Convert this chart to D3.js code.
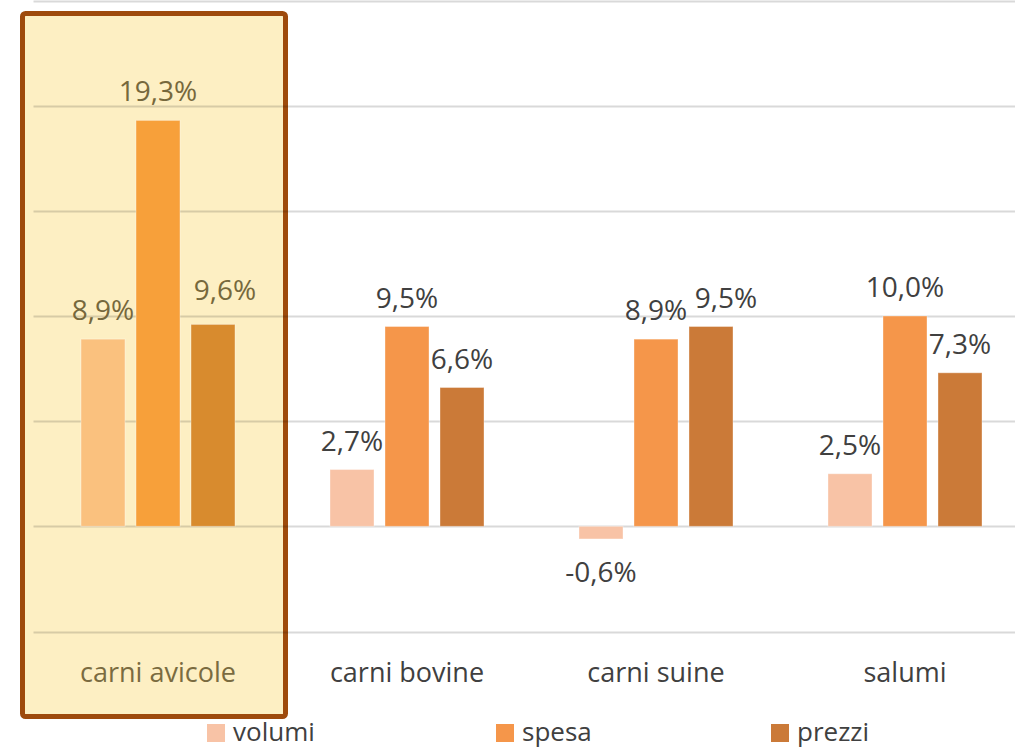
<!DOCTYPE html>
<html>
<head>
<meta charset="utf-8">
<script src="https://cdn.jsdelivr.net/npm/d3@7"></script>
<style>
    body { margin: 0; background: #fff; }
    svg text { font-family: "Open Sans", sans-serif; }
</style>
</head>
<body>
<div id="chart"></div>
<script>
const categories = ["carni avicole", "carni bovine", "carni suine", "salumi"];
const seriesNames = ["volumi", "spesa", "prezzi"];
const volumi = [8.9, 2.7, -0.6, 2.5];
const spesa = [19.3, 9.5, 8.9, 10.0];
const prezzi = [9.6, 6.6, 9.5, 7.3];
const yTicks = [-5, 0, 5, 10, 15, 20, 25];

const values = [volumi, spesa, prezzi];
const highlighted = "carni avicole";

// colori serie (normale / evidenziato)
const seriesColors = ["#F8C3A6", "#F5964A", "#CB7A38"];
const highlightColors = ["#FAC17E", "#F7A03A", "#D88B2E"];

// piccoli spostamenti delle etichette per evitare sovrapposizioni (come in Excel)
const labelNudge = {
    "carni avicole|prezzi": [12, -5],
    "carni suine|prezzi": [15, 0]
};

const width = 1015;
const height = 750;

const svg = d3.select("#chart")
    .append("svg")
    .attr("width", width)
    .attr("height", height);

const xScale = d3.scaleBand()
    .domain(categories)
    .range([33.5, 1029.5]);

const yScale = d3.scaleLinear()
    .domain([-5, 25])
    .range([631.5, 0.5]);

const groupWidth = 154;
const inner = d3.scaleBand()
    .domain(seriesNames)
    .range([0, groupWidth])
    .paddingInner(0.2);

// riquadro evidenziato
svg.append("rect")
    .attr("x", xScale(highlighted) - 11)
    .attr("y", 13.5)
    .attr("width", xScale.bandwidth() + 14)
    .attr("height", 703)
    .attr("rx", 3)
    .attr("fill", "#FDEFC3")
    .attr("stroke", "#9E4A0C")
    .attr("stroke-width", 5);

// griglia
svg.append("g")
    .attr("class", "grid")
    .selectAll("line")
    .data(yTicks)
    .enter()
    .append("line")
    .attr("x1", 33.5)
    .attr("x2", width)
    .attr("y1", (d) => Math.round(yScale(d)) + 0.5)
    .attr("y2", (d) => Math.round(yScale(d)) + 0.5)
    .attr("stroke", "#000")
    .attr("stroke-opacity", 0.15)
    .attr("stroke-width", 2);

// barre
const groupOffset = (xScale.bandwidth() - groupWidth) / 2;
const fmt = (v) => d3.format(".1f")(v).replace(".", ",").replace("\u2212", "-") + "%";

categories.forEach((cat, ci) => {
    const isHi = cat === highlighted;
    const g = svg.append("g")
        .attr("transform", `translate(${xScale(cat) + groupOffset}, 0)`);

    seriesNames.forEach((s, si) => {
        const v = values[si][ci];
        const x = inner(s);
        const y0 = yScale(0);
        const y1 = yScale(v);

        g.append("rect")
            .attr("x", x)
            .attr("y", Math.min(y0, y1))
            .attr("width", inner.bandwidth())
            .attr("height", Math.abs(y1 - y0))
            .attr("fill", isHi ? highlightColors[si] : seriesColors[si])
            .attr("stroke", "#fff")
            .attr("stroke-opacity", 0.35)
            .attr("stroke-width", 1);

        const nudge = labelNudge[`${cat}|${s}`] || [0, 0];
        const labelY = v >= 0 ? y1 - 19 : y1 + 43;

        g.append("text")
            .attr("x", x + inner.bandwidth() / 2 + nudge[0])
            .attr("y", labelY + nudge[1])
            .attr("text-anchor", "middle")
            .attr("font-size", 28)
            .attr("fill", isHi ? "#76683C" : "#404040")
            .text(fmt(v));
    });
});

// etichette categorie
svg.append("g")
    .selectAll("text")
    .data(categories)
    .enter()
    .append("text")
    .attr("x", (d) => xScale(d) + xScale.bandwidth() / 2)
    .attr("y", 682)
    .attr("text-anchor", "middle")
    .attr("font-size", 27)
    .attr("fill", (d) => d === highlighted ? "#7A6B40" : "#404040")
    .text((d) => d);

// legenda
const legendX = [207, 496, 771];
const legend = svg.append("g")
    .selectAll("g")
    .data(seriesNames)
    .enter()
    .append("g")
    .attr("transform", (d, i) => `translate(${legendX[i]}, 0)`);

legend.append("rect")
    .attr("x", 0)
    .attr("y", 724)
    .attr("width", 18)
    .attr("height", 18)
    .attr("fill", (d, i) => seriesColors[i]);

legend.append("text")
    .attr("x", 26)
    .attr("y", 741)
    .attr("font-size", 26)
    .attr("fill", "#404040")
    .text((d) => d);
</script>
</body>
</html>
